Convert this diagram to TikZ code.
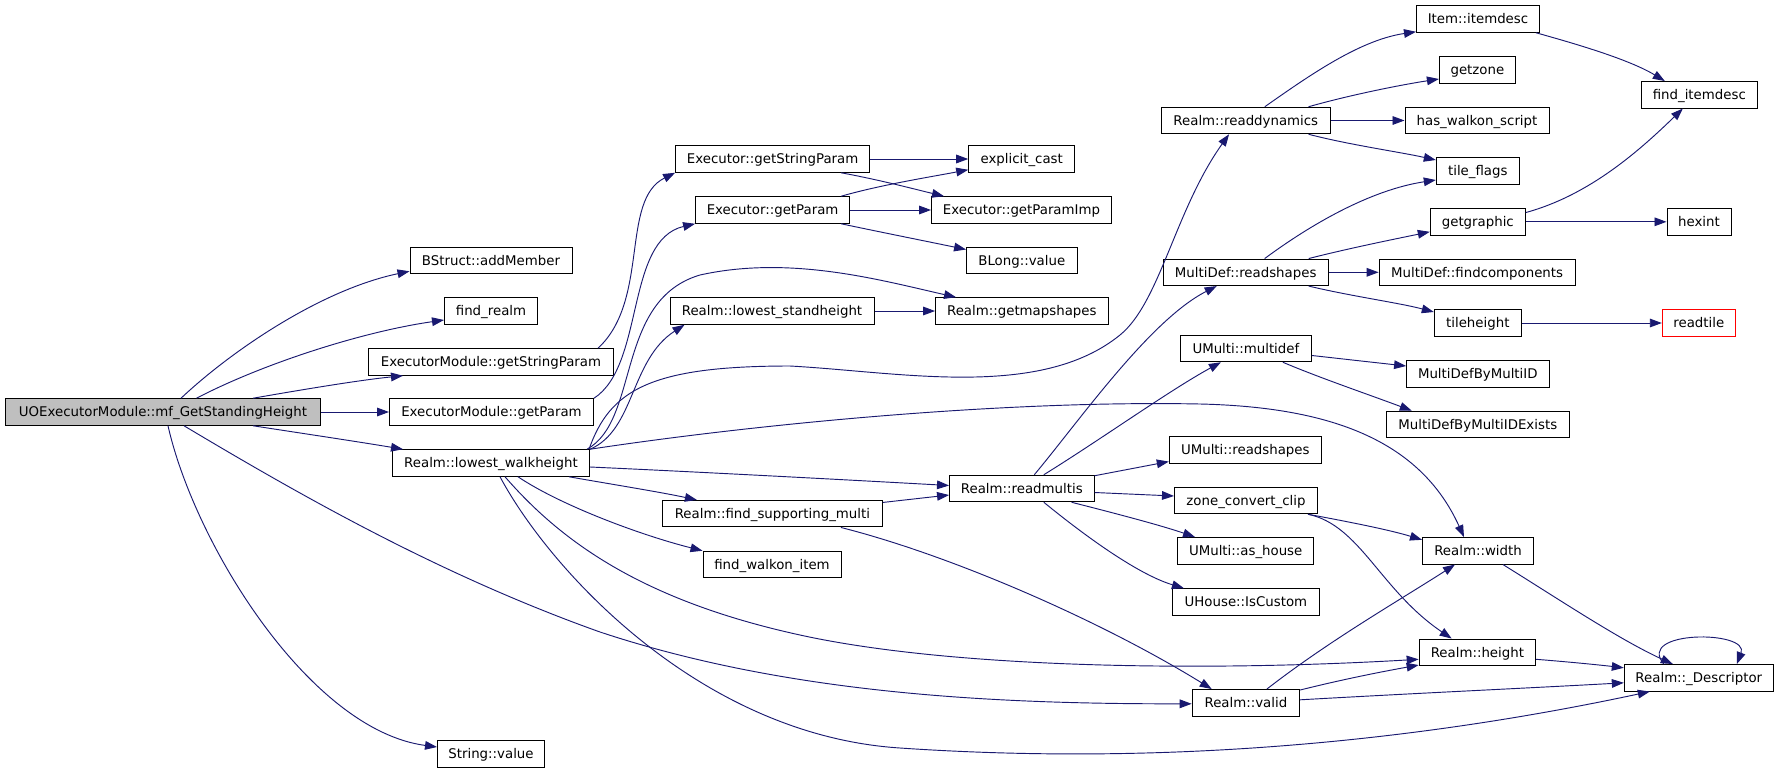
\documentclass[tikz,border=0pt]{standalone}
\usepackage{fontspec}
\setmainfont{DejaVu Sans}
\usetikzlibrary{arrows.meta,calc}
\definecolor{edgecol}{RGB}{25,25,112}
\definecolor{mainfill}{RGB}{191,191,191}
\begin{document}
\begin{tikzpicture}[x=0.75pt,y=-0.75pt,
  box/.style={draw=black,line width=0.75pt,fill=white,minimum height=19.9pt,inner sep=0pt,
    text height=7.3pt,text depth=0pt,font=\fontsize{10}{12}\selectfont},
  bw/.style={minimum width=#1*0.75pt},
  e/.style={draw=edgecol,line width=0.7pt,-{Triangle[length=9pt,width=6.5pt]}}]
\useasboundingbox[fill=white] (0,0) rectangle (1779,772);

% nodes
\node[box,bw=315,fill=mainfill] (main) at (163,412) {UOExecutorModule::mf\_GetStandingHeight};
\node[box,bw=162] (bstruct) at (491,260.5) {BStruct::addMember};
\node[box,bw=93] (findrealm) at (491,311) {find\_realm};
\node[box,bw=245] (emgsp) at (491,362) {ExecutorModule::getStringParam};
\node[box,bw=204] (emgp) at (491.5,412) {ExecutorModule::getParam};
\node[box,bw=197] (lwh) at (491,463) {Realm::lowest\_walkheight};
\node[box,bw=107] (strval) at (491,754) {String::value};
\node[box,bw=194] (egsp) at (772.6,159) {Executor::getStringParam};
\node[box,bw=154] (egp) at (772.6,210) {Executor::getParam};
\node[box,bw=204] (lsh) at (772,311) {Realm::lowest\_standheight};
\node[box,bw=220] (fsm) at (772.4,513.7) {Realm::find\_supporting\_multi};
\node[box,bw=138] (fwi) at (772,564.5) {find\_walkon\_item};
\node[box,bw=106] (ecast) at (1021.7,159) {explicit\_cast};
\node[box,bw=180] (egpi) at (1021.5,210) {Executor::getParamImp};
\node[box,bw=110.5] (blong) at (1021.8,260.5) {BLong::value};
\node[box,bw=172.5] (gms) at (1021.8,311) {Realm::getmapshapes};
\node[box,bw=144.5] (rmulti) at (1021.8,488.5) {Realm::readmultis};
\node[box,bw=168.5] (rdyn) at (1245.8,120.5) {Realm::readdynamics};
\node[box,bw=165] (mdrs) at (1245.7,272.3) {MultiDef::readshapes};
\node[box,bw=131] (umd) at (1245.9,348.5) {UMulti::multidef};
\node[box,bw=152] (umrs) at (1245.3,449.8) {UMulti::readshapes};
\node[box,bw=143] (zcc) at (1246,500.5) {zone\_convert\_clip};
\node[box,bw=136.4] (ash) at (1245.7,550.8) {UMulti::as\_house};
\node[box,bw=147] (uhic) at (1245.9,602) {UHouse::IsCustom};
\node[box,bw=107.4] (rvalid) at (1245.9,702.8) {Realm::valid};
\node[box,bw=123] (itemdesc) at (1478,19) {Item::itemdesc};
\node[box,bw=76] (getzone) at (1477.4,70) {getzone};
\node[box,bw=144] (hws) at (1477,120.5) {has\_walkon\_script};
\node[box,bw=83] (tflags) at (1477.8,171) {tile\_flags};
\node[box,bw=95] (ggraph) at (1477.8,221.8) {getgraphic};
\node[box,bw=196] (mdfc) at (1477.1,272.3) {MultiDef::findcomponents};
\node[box,bw=87] (theight) at (1477.8,323) {tileheight};
\node[box,bw=142.4] (mdbm) at (1477.8,374) {MultiDefByMultiID};
\node[box,bw=183] (mdbme) at (1477.8,424.5) {MultiDefByMultiIDExists};
\node[box,bw=111] (rwidth) at (1478,550.8) {Realm::width};
\node[box,bw=116.5] (rheight) at (1477.4,652.3) {Realm::height};
\node[box,bw=116] (fid) at (1699.3,94.8) {find\_itemdesc};
\node[box,bw=64] (hexint) at (1699,221.8) {hexint};
\node[box,bw=73,draw=red] (readtile) at (1698.8,323) {readtile};
\node[box,bw=149] (desc) at (1698.8,677.8) {Realm::\_Descriptor};

% edges from main
\draw[e] ($(main.north)+(18,0)$) .. controls (230,352) and (320,290) .. ($(bstruct.south west)+(0,-3)$);
\draw[e] ($(main.north)+(33.5,0)$) .. controls (260,365) and (360,332) .. ($(findrealm.west)+(0,9)$);
\draw[e] ($(main.north)+(90,0)$) .. controls (300,390) and (360,380) .. ($(emgsp.south west)+(35,0)$);
\draw[e] (main.east) -- (emgp.west);
\draw[e] ($(main.south)+(90,0)$) .. controls (300,433) and (360,442) .. ($(lwh.north west)+(11,0)$);
\draw[e] ($(main.south)+(5,0)$) .. controls (195,545) and (310,730) .. ($(strval.west)+(0,-7)$);
\draw[e] ($(main.south)+(21,0)$) .. controls (300,495) and (440,575) .. (600,632) .. controls (790,695) and (1000,704) .. ($(rvalid.west)+(0,1)$);

% executor module
\draw[e] ($(emgsp.north east)+(-16,0)$) .. controls (650,300) and (620,200) .. (egsp.south west);
\draw[e] (emgp.north east) .. controls (645,365) and (625,240) .. (egp.south west);
\draw[e] (egsp.east) -- (ecast.west);
\draw[e] ($(egsp.south east)+(-29,0)$) .. controls (880,180) and (910,188) .. ($(egpi.north west)+(13,0)$);
\draw[e] ($(egp.north east)+(-9,0)$) .. controls (880,185) and (930,177) .. ($(ecast.south west)+(0,-3)$);
\draw[e] (egp.east) -- (egpi.west);
\draw[e] ($(egp.south east)+(-9,0)$) .. controls (880,232) and (930,242) .. ($(blong.west)+(0,-11)$);
\draw[e] (lsh.east) -- (gms.west);

% lowest_walkheight
\draw[e] (lwh.north east) .. controls (635,430) and (630,360) .. ($(lsh.south west)+(15,0)$);
\draw[e] ($(lwh.north east)+(-3,0)$) .. controls (640,420) and (615,300) .. (700,275) .. controls (790,255) and (880,280) .. ($(gms.north west)+(21,0)$);
\draw[e] ($(lwh.north east)+(-1,0)$) .. controls (610,390) and (650,366) .. (790,366) .. controls (900,372) and (1040,400) .. (1120,335) .. controls (1160,302.5) and (1175,210) .. ($(rdyn.south west)+(68,0)$);
\draw[e] (lwh.north east) .. controls (750,425) and (1000,400) .. (1200,404) .. controls (1330,407) and (1420,440) .. ($(rwidth.north west)+(42,0)$);
\draw[e] ($(lwh.east)+(0,4)$) .. controls (700,472) and (850,480) .. ($(rmulti.west)+(0,-3)$);
\draw[e] ($(lwh.south east)+(-21,0)$) .. controls (610,484) and (660,492) .. ($(fsm.north west)+(35,0)$);
\draw[e] ($(lwh.south)+(27,0)$) .. controls (560,505) and (640,535) .. (fwi.north west);
\draw[e] ($(lwh.south)+(14,0)$) .. controls (560,540) and (640,600) .. (800,635) .. controls (950,668) and (1200,672) .. ($(rheight.west)+(0,7)$);
\draw[e] ($(lwh.south)+(9,0)$) .. controls (550,570) and (700,735) .. (900,748) .. controls (1150,765) and (1400,745) .. ($(desc.south west)+(26,0)$);

% find_supporting_multi
\draw[e] ($(fsm.north east)+(0,2.5)$) -- ($(rmulti.west)+(0,6.5)$);
\draw[e] ($(fsm.south east)+(-42,0)$) .. controls (950,555) and (1100,620) .. ($(rvalid.north west)+(20,0)$);

% readmultis
\draw[e] ($(rmulti.north)+(12.5,0)$) .. controls (1080,420) and (1150,320) .. ($(mdrs.south west)+(54,0)$);
\draw[e] ($(rmulti.north)+(22,0)$) .. controls (1100,440) and (1170,390) .. ($(umd.south west)+(41,0)$);
\draw[e] ($(rmulti.north east)+(0,1)$) -- ($(umrs.south west)+(0,-2)$);
\draw[e] ($(rmulti.east)+(0,4)$) -- ($(zcc.west)+(0,-4.5)$);
\draw[e] ($(rmulti.south east)+(-23,0)$) .. controls (1110,512) and (1160,525) .. ($(ash.north west)+(18,0)$);
\draw[e] ($(rmulti.south)+(22,0)$) .. controls (1090,540) and (1140,575) .. ($(uhic.north west)+(12,0)$);

% readdynamics
\draw[e] ($(rdyn.north)+(19,0)$) .. controls (1310,75) and (1360,40) .. ($(itemdesc.south west)+(0,-1)$);
\draw[e] ($(rdyn.north east)+(-22,0)$) .. controls (1350,95) and (1400,85) .. ($(getzone.west)+(0,9)$);
\draw[e] (rdyn.east) -- (hws.west);
\draw[e] ($(rdyn.south east)+(-22,0)$) .. controls (1350,145) and (1400,152) .. ($(tflags.west)+(0,-11)$);

% MultiDef::readshapes
\draw[e] ($(mdrs.north)+(19,0)$) .. controls (1310,225) and (1370,190) .. ($(tflags.west)+(0,9)$);
\draw[e] ($(mdrs.north east)+(-20,0)$) .. controls (1350,248) and (1400,238) .. ($(ggraph.west)+(0,10)$);
\draw[e] (mdrs.east) -- (mdfc.west);
\draw[e] ($(mdrs.south east)+(-20,0)$) .. controls (1350,296) and (1400,303) .. ($(theight.west)+(0,-11)$);

% right side
\draw[e] ($(itemdesc.south east)+(-4,0)$) .. controls (1580,45) and (1630,60) .. ($(fid.north west)+(24,0)$);
\draw[e] ($(ggraph.north east)+(0,4.5)$) .. controls (1590,195) and (1640,150) .. ($(fid.south west)+(42,0)$);
\draw[e] (ggraph.east) -- (hexint.west);
\draw[e] (theight.east) -- (readtile.west);
\draw[e] ($(umd.east)+(0,7)$) -- ($(mdbm.west)+(0,-8)$);
\draw[e] ($(umd.south east)+(-29,0)$) .. controls (1320,378) and (1370,395) .. ($(mdbme.north west)+(26,0)$);
\draw[e] ($(zcc.south east)+(-10,0)$) .. controls (1350,522) and (1390,530) .. ($(rwidth.west)+(0,-11)$);
\draw[e] ($(zcc.south east)+(-10,0)$) .. controls (1360,525) and (1380,590) .. ($(rheight.north west)+(33,0)$);
\draw[e] ($(rwidth.south east)+(-31,0)$) .. controls (1560,600) and (1620,640) .. ($(desc.north west)+(49,0)$);
\draw[e] ($(rheight.east)+(0,7)$) .. controls (1570,662) and (1600,665) .. ($(desc.west)+(0,-10)$);
\draw[e] ($(rvalid.north)+(21,0)$) .. controls (1330,640) and (1400,600) .. ($(rwidth.south west)+(33,0)$);
\draw[e] ($(rvalid.north east)+(0,1)$) .. controls (1340,680) and (1380,672) .. ($(rheight.south west)+(0,-1)$);
\draw[e] ($(rvalid.east)+(0,-3)$) .. controls (1420,693) and (1530,688) .. ($(desc.west)+(0,5)$);
\draw[e] ($(desc.north west)+(40,0)$) .. controls (1635,630) and (1750,630) .. ($(desc.north east)+(-37,0)$);
\end{tikzpicture}
\end{document}
